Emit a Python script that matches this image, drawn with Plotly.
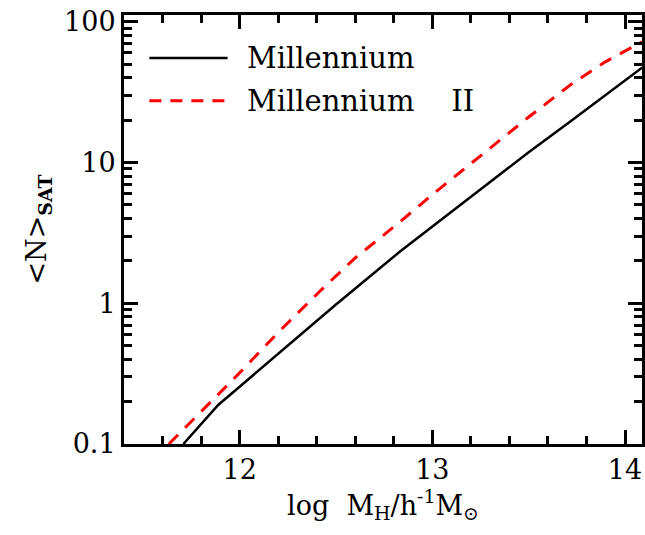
import plotly.graph_objects as go
from plotly.subplots import make_subplots

# Data
logM_mill = [11.708, 11.89, 12.0, 12.2, 12.42, 12.5, 12.834, 13.0, 13.197, 13.353, 13.5, 13.716, 13.9, 14.088]
N_mill = [0.1, 0.19, 0.255, 0.437, 0.79, 0.98, 2.34, 3.5, 5.7, 8.3, 11.8, 19.5, 30.0, 47.0]

logM_mill2 = [11.633, 11.8, 12.0, 12.2, 12.42, 12.6, 12.834, 13.0, 13.232, 13.5, 13.716, 13.9, 14.088]
N_mill2 = [0.1, 0.17, 0.32, 0.62, 1.23, 2.1, 3.8, 5.9, 10.6, 21.0, 35.5, 52.0, 72.0]

series_names = ["Millennium", "Millennium   II"]

FONT = "DejaVu Serif"

fig = make_subplots(rows=1, cols=1)
fig.add_trace(go.Scatter(x=logM_mill, y=N_mill, mode="lines",
                         line=dict(color="black", width=2.5), name=series_names[0],
                         showlegend=False), row=1, col=1)
fig.add_trace(go.Scatter(x=logM_mill2, y=N_mill2, mode="lines",
                         line=dict(color="red", width=3, dash="13px,10px"), name=series_names[1],
                         showlegend=False), row=1, col=1)

# Legend drawn as shapes + text (axis-domain coordinates)
fig.add_shape(type="line", xref="x domain", yref="y domain", x0=0.049, x1=0.200, y0=0.900, y1=0.900,
              line=dict(color="black", width=2.5), opacity=1)
fig.add_shape(type="line", xref="x domain", yref="y domain", x0=0.049, x1=0.200, y0=0.800, y1=0.800,
              line=dict(color="red", width=3, dash="12px,9px"), opacity=1)
fig.add_annotation(xref="x domain", yref="y domain", x=0.234, y=0.900, text=series_names[0],
                   showarrow=False, xanchor="left", yanchor="middle",
                   font=dict(family=FONT, size=29, color="black"))
fig.add_annotation(xref="x domain", yref="y domain", x=0.234, y=0.800, text="Millennium&nbsp;&nbsp;&nbsp;&nbsp;II",
                   showarrow=False, xanchor="left", yanchor="middle",
                   font=dict(family=FONT, size=29, color="black"))

axis_common = dict(
    showline=True, linecolor="black", linewidth=3, mirror="ticks",
    ticks="inside", tickcolor="black", tickwidth=2.5, ticklen=14,
    showgrid=False, zeroline=False, automargin=False,
    tickfont=dict(family=FONT, size=27, color="black"),
)

fig.update_xaxes(
    range=[11.4, 14.088], tickmode="linear", tick0=12, dtick=1,
    minor=dict(ticks="inside", ticklen=8, tickwidth=2.5, tickcolor="black", dtick=0.2, tick0=12, showgrid=False),
    title=dict(text="log&nbsp;&nbsp;M<sub>H</sub>/h<sup>-1</sup>M<sub>⊙</sub>",
               font=dict(family=FONT, size=27, color="black"), standoff=10),
    **axis_common, row=1, col=1,
)
fig.update_yaxes(
    type="log", range=[-1, 2.047], tickmode="linear", tick0=0, dtick=1,
    minor=dict(ticks="inside", ticklen=8, tickwidth=2.5, tickcolor="black", dtick="D1", showgrid=False),
    title=dict(text="&lt;N&gt;<sub><b>SAT</b></sub>",
               font=dict(family=FONT, size=27, color="black"), standoff=10),
    **axis_common, row=1, col=1,
)

fig.update_layout(
    width=645, height=535,
    margin=dict(l=124, r=3, t=15, b=91),
    paper_bgcolor="white", plot_bgcolor="white",
    showlegend=False,
)

fig.write_html("out.html", config={"displayModeBar": False})

# remove the browser's default 8px body margin so the figure fills the window exactly
with open("out.html", "r", encoding="utf-8") as f:
    html = f.read()
html = html.replace("<head>", "<head><style>html,body{margin:0;padding:0;overflow:hidden;}</style>", 1)
with open("out.html", "w", encoding="utf-8") as f:
    f.write(html)
